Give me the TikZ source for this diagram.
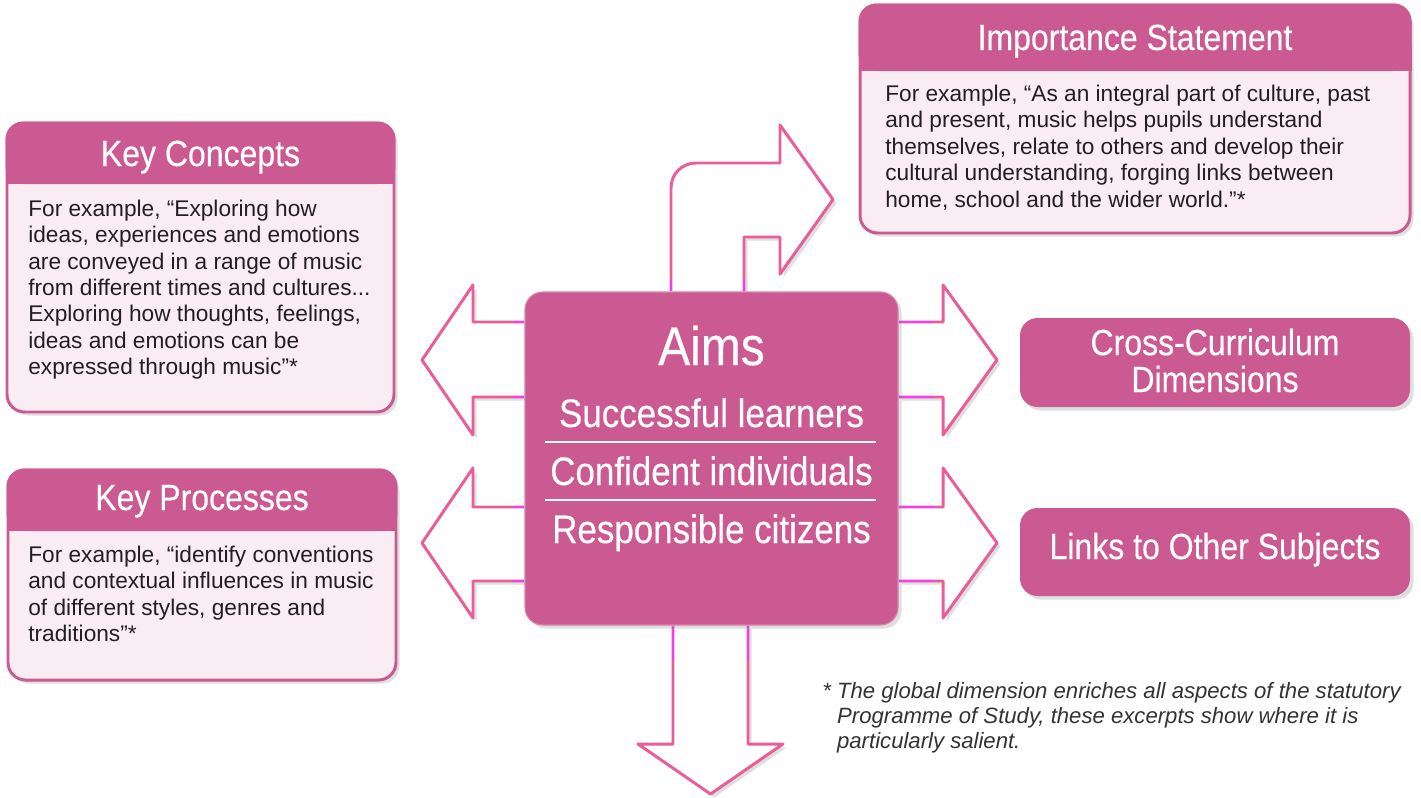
\documentclass[tikz,border=0pt]{standalone}
\usepackage{fontspec}
\setmainfont{Liberation Sans}
\newfontfamily\condfont[FakeStretch=0.88, FakeBold=0.3]{Liberation Sans}
\usetikzlibrary{shadows,fit,backgrounds}
\definecolor{boxPink}{HTML}{CC5A92}
\definecolor{arrowPink}{HTML}{E95E99}
\definecolor{bodyPink}{HTML}{F9EDF3}
\definecolor{tickMagenta}{HTML}{F53CF0}
\definecolor{bodyText}{HTML}{231F20}

\begin{document}
\begin{tikzpicture}[x=0.02cm, y=-0.02cm,
    softshadow/.style={drop shadow={opacity=0.25, shadow xshift=2pt, shadow yshift=-2pt}},
    bodybox/.style={draw=boxPink, line width=1.7pt, fill=bodyPink, rounded corners=10pt, inner sep=0pt, softshadow},
    pinkbox/.style={fill=boxPink, rounded corners=10pt, inner sep=0pt, softshadow},
    title/.style={text=white, font=\condfont\fontsize{20.7}{21}\selectfont, anchor=base, inner sep=0pt, align=center},
    aimsline/.style={text=white, font=\condfont\fontsize{22.6}{23}\selectfont, anchor=base, inner sep=0pt},
    bodytext/.style={text=bodyText, font=\fontsize{12.9}{15}\selectfont, align=left, anchor=base west, inner sep=0pt},
    blockarrow/.style={draw=arrowPink, line width=1.7pt, fill=white, line join=round, softshadow},
    tick/.style={draw=tickMagenta, line width=1.7pt}]

    \useasboundingbox (0,0) rectangle (1421,798);

    % centre box
    \node[pinkbox, draw=boxPink!75!white, line width=0.6pt, fit={(525,292) (898,625)}] (aims) {};
    \node[aimsline, font=\condfont\fontsize{31}{31}\selectfont] (aimsHead) at (711.5,365) {Aims};
    \node[aimsline] (learners) at (711.5,427) {Successful learners};
    \node[aimsline] (individuals) at (711.5,485) {Confident individuals};
    \node[aimsline] (citizens) at (711.5,543) {Responsible citizens};
    \draw[white, line width=0.6pt] (545,442) -- (876,442);
    \draw[white, line width=0.6pt] (545,500) -- (876,500);

    % key concepts
    \node[bodybox, fit={(7,123) (394,412)}] (concepts) {};
    \fill[boxPink, rounded corners=10pt] (concepts.north west) rectangle (concepts.east |- 0,184);
    \fill[boxPink] (concepts.west |- 0,160) rectangle (concepts.east |- 0,184);
    \node[title] (conceptsHead) at (200.5,166) {Key Concepts};
    \node[bodytext] (conceptsText) at (28,374.5) {For example, “Exploring how\\
        ideas, experiences and emotions\\
        are conveyed in a range of music\\
        from different times and cultures...\\
        Exploring how thoughts, feelings,\\
        ideas and emotions can be\\
        expressed through music”*};

    % key processes
    \node[bodybox, fit={(8,470) (396,680)}] (processes) {};
    \fill[boxPink, rounded corners=10pt] (processes.north west) rectangle (processes.east |- 0,531);
    \fill[boxPink] (processes.west |- 0,505) rectangle (processes.east |- 0,531);
    \node[title] (processesHead) at (202,510) {Key Processes};
    \node[bodytext] (processesText) at (28,641.5) {For example, “identify conventions\\
        and contextual influences in music\\
        of different styles, genres and\\
        traditions”*};

    % importance statement
    \node[bodybox, fit={(860,5) (1410,233)}] (importance) {};
    \fill[boxPink, rounded corners=10pt] (importance.north west) rectangle (importance.east |- 0,71);
    \fill[boxPink] (importance.west |- 0,45) rectangle (importance.east |- 0,71);
    \node[title] (importanceHead) at (1135,50) {Importance Statement};
    \node[bodytext] (importanceText) at (885,207) {For example, “As an integral part of culture, past\\
        and present, music helps pupils understand\\
        themselves, relate to others and develop their\\
        cultural understanding, forging links between\\
        home, school and the wider world.”*};

    % right hand boxes
    \node[pinkbox, fit={(1020,318) (1410,407)}] (crossCurr) {};
    \node[title] (crossCurrHead) at (1215,392) {Cross-Curriculum\\Dimensions};
    \node[pinkbox, fit={(1020,508) (1410,596)}] (links) {};
    \node[title] (linksHead) at (1215,559) {Links to Other Subjects};

    % footnote
    \node[bodytext, text=black!80, font=\itshape\fontsize{12.6}{14.2}\selectfont] (note) at (822,748)
        {*\ The global dimension enriches all aspects of the statutory\\
        \phantom{*\ }Programme of Study, these excerpts show where it is\\
        \phantom{*\ }particularly salient.};

    % block arrows
    \begin{scope}[on background layer]
        \fill[white] (0,0) rectangle (1421,798);
        \draw[blockarrow] (aims.west |- 0,322) -- (473,322) -- (473,285) -- (422,360) -- (473,435) -- (473,397) -- (aims.west |- 0,397);
        \draw[blockarrow] (aims.west |- 0,507) -- (473,507) -- (473,468) -- (422,543) -- (473,618) -- (473,581) -- (aims.west |- 0,581);
        \draw[blockarrow] (aims.east |- 0,322) -- (943,322) -- (943,285) -- (997,360) -- (943,435) -- (943,397) -- (aims.east |- 0,397);
        \draw[blockarrow] (aims.east |- 0,507) -- (943,507) -- (943,468) -- (997,543) -- (943,618) -- (943,581) -- (aims.east |- 0,581);
        \draw[blockarrow] (aims.south -| 673,0) -- (673,744) -- (638,744) -- (710.5,794) -- (783,744) -- (748,744) -- (aims.south -| 748,0);
        \draw[blockarrow] (aims.north -| 671,0) -- (671,188) .. controls (671,174) and (682,163) .. (696,163) -- (780,163) -- (780,125) -- (833,199.5) -- (780,274) -- (780,237) -- (744,237) -- (aims.north -| 744,0);
        % joins at the box edges
        \draw[tick] (513,322) -- (aims.west |- 0,322);
        \draw[tick] (513,397) -- (aims.west |- 0,397);
        \draw[tick] (513,507) -- (aims.west |- 0,507);
        \draw[tick] (513,581) -- (aims.west |- 0,581);
        \draw[tick] (aims.east |- 0,322) -- (933,322);
        \draw[tick] (aims.east |- 0,397) -- (933,397);
        \draw[tick] (aims.east |- 0,507) -- (933,507);
        \draw[tick] (aims.east |- 0,581) -- (933,581);
        \draw[tick] (aims.south -| 673,0) -- (673,660);
        \draw[tick] (aims.south -| 748,0) -- (748,660);
        \draw[tick] (671,280) -- (aims.north -| 671,0);
        \draw[tick] (744,280) -- (aims.north -| 744,0);
    \end{scope}

\end{tikzpicture}
\end{document}
